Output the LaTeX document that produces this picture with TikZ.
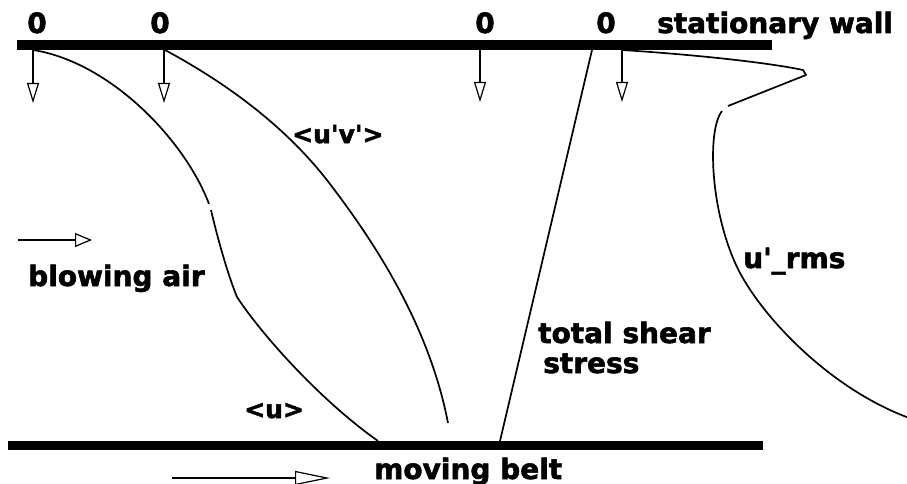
\documentclass[tikz,border=0pt]{standalone}
\usepackage{fontspec}
\setmainfont{DejaVu Sans}[BoldFeatures={FakeBold=2}]
\usetikzlibrary{arrows.meta}
\tikzset{
  lbl/.style={font=\fontsize{28}{30}\selectfont\bfseries, inner sep=0pt, anchor=base west},
  smalllbl/.style={font=\fontsize{25}{28}\selectfont\bfseries, inner sep=0pt, anchor=base west},
  zero/.style={font=\fontsize{28}{30}\selectfont\bfseries, inner sep=0pt, anchor=base},
  wall/.style={line width=9.5pt},
  curve/.style={line width=1.7pt},
  downarrow/.style={line width=1.4pt, -{Triangle[open, length=20pt, width=12pt, line width=1.2pt]}},
  flowarrow/.style={line width=1.4pt, -{Triangle[open, length=17pt, width=14pt, line width=1.2pt]}},
  beltarrow/.style={line width=1.4pt, -{Triangle[open, length=35pt, width=14pt, line width=1.2pt]}},
}
\begin{document}
\begin{tikzpicture}[x=1pt, y=-1pt]
\useasboundingbox (0,0) rectangle (907,484);
\clip (0,0) rectangle (907,484);

% walls
\coordinate (tw1) at (17,45);
\coordinate (tw2) at (772,45);
\coordinate (bw1) at (8,445.5);
\coordinate (bw2) at (763,445.5);
\draw[wall] (tw1) -- (tw2);
\draw[wall] (bw1) -- (bw2);

% zero labels
\node[zero] (z1) at (37,33) {0};
\node[zero] (z2) at (160,33) {0};
\node[zero] (z3) at (485,33) {0};
\node[zero] (z4) at (606,33) {0};
\node[lbl] (sw) at (657,33) {stationary wall};

% down arrows
\coordinate (a1s) at (33,50);  \coordinate (a1e) at (33,103);
\coordinate (a2s) at (164,50); \coordinate (a2e) at (164,103);
\coordinate (a3s) at (480,50); \coordinate (a3e) at (480,102);
\coordinate (a4s) at (622,50); \coordinate (a4e) at (622,102);
\draw[downarrow] (a1s) -- (a1e);
\draw[downarrow] (a2s) -- (a2e);
\draw[downarrow] (a3s) -- (a3e);
\draw[downarrow] (a4s) -- (a4e);

% blowing air arrow
\coordinate (ba1) at (18,240);
\coordinate (ba2) at (92,240);
\draw[flowarrow] (ba1) -- (ba2);
\node[lbl] (blow) at (28,286) {blowing air};

% belt arrow
\coordinate (mb1) at (172,478);
\coordinate (mb2) at (330,478);
\draw[beltarrow] (mb1) -- (mb2);
\node[lbl] (belt) at (374,479) {moving belt};

% <u> profile
\draw[curve] (33,50) .. controls (110,62) and (185,140) .. (209,204);
\draw[curve] (211,210) .. controls (218,240) and (228,275) .. (237,297);
\draw[curve] (237,297) .. controls (262,335) and (320,400) .. (378,441);
\node[smalllbl] (u) at (244,418) {<u>};

% <u'v'> profile
\draw[curve] (165,50) .. controls (230,85) and (290,130) .. (333,188)
  .. controls (380,250) and (430,330) .. (448,423);
\node[smalllbl] (uv) at (292,143) {<u\textquotesingle v\textquotesingle>};

% total shear stress
\coordinate (ts1) at (592,50);
\coordinate (ts2) at (500,441);
\draw[curve] (ts1) -- (ts2);
\node[lbl] (ts) at (538,343) {total shear};
\node[lbl] (ts') at (543,373) {stress};

% u'_rms profile
\draw[curve, line join=round] (622,50) .. controls (700,55) and (770,63) .. (803,70) -- (806,75) -- (728,106);
\draw[curve] (722,111) .. controls (707,130) and (710,210) .. (737,267)
  .. controls (760,315) and (830,390) .. (912,419);
\node[lbl] (urms) at (743,268) {u\textquotesingle\_rms};
\end{tikzpicture}
\end{document}
